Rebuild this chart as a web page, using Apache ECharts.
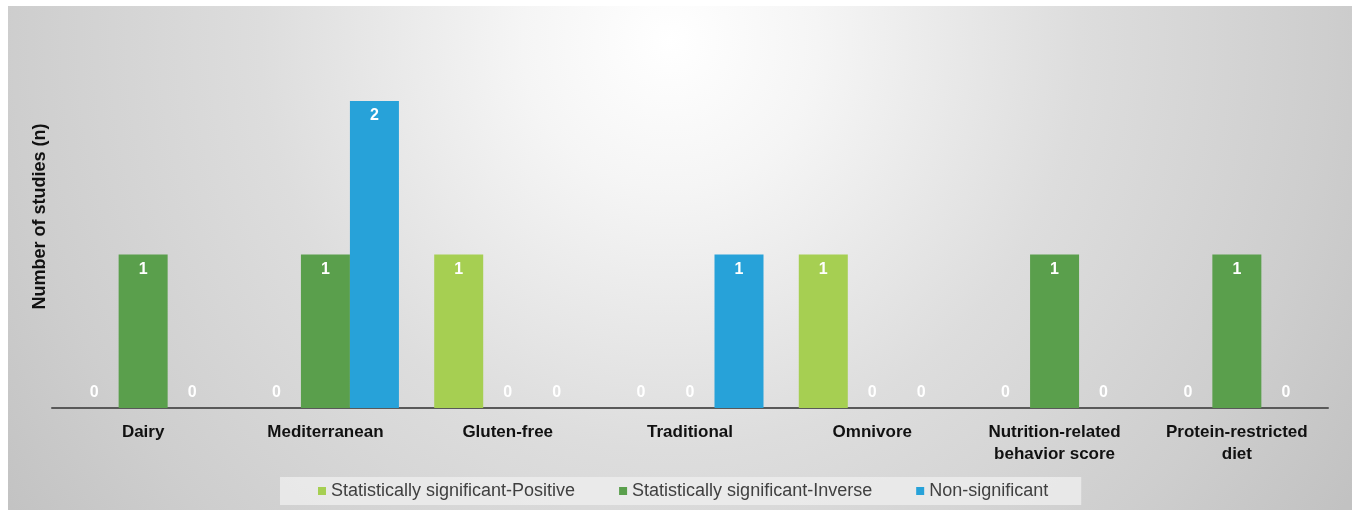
<!DOCTYPE html>
<html>
<head>
<meta charset="utf-8">
<script src="https://cdn.jsdelivr.net/npm/echarts@6/dist/echarts.min.js"></script>
<style>
  html, body { margin: 0; padding: 0; background: #ffffff; }
  #chart { width: 1354px; height: 510px; }
</style>
</head>
<body>
<div id="chart"></div>
<script>
// Diet categories and study counts per outcome type
const categories = [
  'Dairy',
  'Mediterranean',
  'Gluten-free',
  'Traditional',
  'Omnivore',
  'Nutrition-related\nbehavior score',
  'Protein-restricted\ndiet'
];
const seriesNames = [
  'Statistically significant-Positive',
  'Statistically significant-Inverse',
  'Non-significant'
];
const positiveValues = [0, 0, 1, 0, 1, 0, 0];
const inverseValues = [1, 1, 0, 0, 0, 1, 1];
const nonSignificantValues = [0, 2, 0, 1, 0, 0, 0];
const seriesColors = ['#a6cf52', '#5a9f4c', '#27a2d9'];

const FONT = '"Liberation Sans", Arial, sans-serif';

// Zero counts get their label just above the baseline, others inside the bar top
function toItems(values) {
  return values.map(v => v === 0
    ? { value: v, label: { position: 'top', distance: 7 } }
    : { value: v });
}

function makeSeries(name, values, color) {
  return {
    name: name,
    type: 'bar',
    barWidth: 49,
    barGap: '0%',
    itemStyle: { color: color },
    label: {
      show: true,
      position: 'insideTop',
      distance: 7,
      color: '#ffffff',
      fontFamily: FONT,
      fontWeight: 'bold',
      fontSize: 16
    },
    data: toItems(values)
  };
}

const chart = echarts.init(document.getElementById('chart'), null, { renderer: 'canvas' });

chart.setOption({
  animation: false,
  backgroundColor: '#ffffff',
  graphic: [{
    type: 'rect',
    z: -10,
    silent: true,
    shape: { x: 8, y: 6, width: 1344, height: 504 },
    style: {
      fill: {
        type: 'radial',
        x: 670, y: 40, r: 820,
        global: true,
        colorStops: [
          { offset: 0, color: '#ffffff' },
          { offset: 0.18, color: '#f5f5f5' },
          { offset: 0.5, color: '#dddddd' },
          { offset: 0.8, color: '#cecece' },
          { offset: 1, color: '#c2c2c2' }
        ]
      }
    }
  }],
  grid: { left: 52, right: 26, top: 101, bottom: 102, containLabel: false },
  legend: {
    data: seriesNames,
    left: 280,
    top: 477,
    padding: [5, 33, 5, 38],
    itemGap: 44,
    itemWidth: 8,
    itemHeight: 8,
    icon: 'rect',
    backgroundColor: 'rgba(236,236,236,0.85)',
    textStyle: { fontFamily: FONT, fontSize: 18, color: '#404040' }
  },
  xAxis: {
    type: 'category',
    data: categories,
    axisLine: { lineStyle: { color: '#595959', width: 2 } },
    axisTick: { show: false },
    axisLabel: {
      interval: 0,
      margin: 13,
      color: '#111111',
      fontFamily: FONT,
      fontWeight: 'bold',
      fontSize: 17,
      lineHeight: 22
    }
  },
  yAxis: {
    type: 'value',
    min: 0,
    max: 2,
    interval: 1,
    name: 'Number of studies (n)',
    nameLocation: 'middle',
    nameGap: 3,
    nameRotate: 90,
    nameTextStyle: {
      fontFamily: FONT,
      fontWeight: 'bold',
      fontSize: 18,
      color: '#111111',
      padding: [0, 0, 0, 76]
    },
    axisLine: { show: false },
    axisTick: { show: false },
    axisLabel: { show: false },
    splitLine: { show: false }
  },
  series: [
    makeSeries(seriesNames[0], positiveValues, seriesColors[0]),
    makeSeries(seriesNames[1], inverseValues, seriesColors[1]),
    makeSeries(seriesNames[2], nonSignificantValues, seriesColors[2])
  ]
});
</script>
</body>
</html>
